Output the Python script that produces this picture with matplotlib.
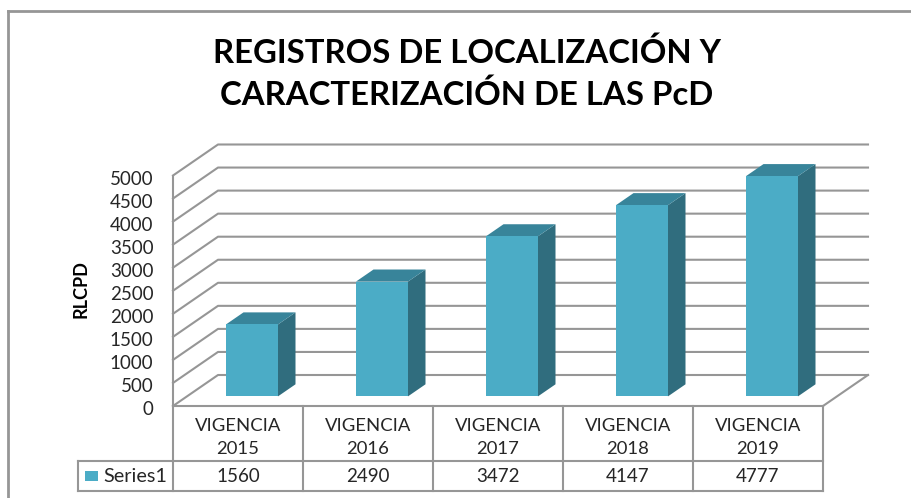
import matplotlib.pyplot as plt
from matplotlib.lines import Line2D
from matplotlib.patches import Polygon, Rectangle
from matplotlib.transforms import ScaledTranslation

categories = ["VIGENCIA\n2015", "VIGENCIA\n2016", "VIGENCIA\n2017", "VIGENCIA\n2018", "VIGENCIA\n2019"]
values = [1560, 2490, 3472, 4147, 4777]
y_ticks = [0, 500, 1000, 1500, 2000, 2500, 3000, 3500, 4000, 4500, 5000]
title = "REGISTROS DE LOCALIZACIÓN Y\nCARACTERIZACIÓN DE LAS PcD"
series_name = "Series1"
y_label = "RLCPD"

W, H = 912, 498
GRAY = "#969696"
FRONT = "#4bacc6"
SIDE = "#306d7e"
TOP = "#38849a"

# front plane of the 3d box in pixels, everything else follows from it
X0, X1, Y0, Y5 = 173, 823, 406, 175.5
DEPTH_X = 45 / ((X1 - X0) / 5)
DEPTH_Y = 31 / ((Y0 - Y5) / 5000)
BAR_W = 52 / ((X1 - X0) / 5)
BAR_LIFT = 0.31  # bars stand this share of the way into the floor


def px_line(fig, xs, ys, lw=1.5):
    fig.add_artist(Line2D([x / W for x in xs], [1 - y / H for y in ys], color=GRAY, lw=lw))


plt.rcParams["font.family"] = ["Lato", "DejaVu Sans"]
fig = plt.figure(figsize=(W / 100, H / 100), dpi=100)
ax = fig.add_axes([X0 / W, 1 - Y0 / H, (X1 - X0) / W, (Y0 - Y5) / H])
ax.set_xlim(0, 5)
ax.set_ylim(0, 5000)
ax.set_xticks([])
ax.set_yticks(y_ticks)
ax.tick_params(axis="y", length=0, pad=14, labelsize=13.5, labelcolor="#262626")
for label in ax.get_yticklabels():
    label.set_transform(label.get_transform() + ScaledTranslation(0, -2 / 100, fig.dpi_scale_trans))
for side in ("top", "right", "bottom"):
    ax.spines[side].set_visible(False)
ax.spines["left"].set_color(GRAY)
ax.spines["left"].set_linewidth(1.5)
ax.patch.set_visible(False)
ax.set_ylabel(y_label, fontweight="bold", fontsize=13)
ax.yaxis.set_label_coords((90 - X0) / (X1 - X0), (Y0 - 289) / (Y0 - Y5))

# walls
for v in y_ticks:
    ax.plot([0, DEPTH_X, 5 + DEPTH_X], [v, v + DEPTH_Y, v + DEPTH_Y], color=GRAY, lw=1.5, clip_on=False, zorder=1)
ax.plot([0, 5], [0, 0], color=GRAY, lw=1.5, clip_on=False, zorder=1)
ax.plot([5, 5 + DEPTH_X], [0, DEPTH_Y], color=GRAY, lw=1.5, clip_on=False, zorder=1)

# bars as three faces
dx = DEPTH_X * 0.39
dy = DEPTH_Y * 0.39
for i, v in enumerate(values):
    left = i + (1 - BAR_W) / 2 + DEPTH_X * BAR_LIFT
    base = DEPTH_Y * BAR_LIFT
    right = left + BAR_W
    top = base + v
    ax.add_patch(Polygon([(right, base), (right + dx, base + dy), (right + dx, top + dy), (right, top)],
                         fc=SIDE, ec="none", clip_on=False, zorder=3))
    ax.add_patch(Polygon([(left, top), (left + dx, top + dy), (right + dx, top + dy), (right, top)],
                         fc=TOP, ec="none", clip_on=False, zorder=3))
    ax.add_patch(Rectangle((left, base), BAR_W, v, fc=FRONT, ec="none", clip_on=False, zorder=4))

# data table under the plot
col_w = (X1 - X0) / 5
ROW1, ROW2 = 461, 491
px_line(fig, [78, X1], [ROW1, ROW1])
px_line(fig, [78, X1], [ROW2, ROW2])
px_line(fig, [78, 78], [ROW1, ROW2])
for i in range(6):
    px_line(fig, [X0 + i * col_w] * 2, [Y0, ROW2])
for i, (name, v) in enumerate(zip(categories, values)):
    cx = (X0 + (i + 0.5) * col_w) / W
    fig.text(cx, 1 - 437.5 / H, name, ha="center", va="center", fontsize=13.3, color="#262626", linespacing=1.5)
    fig.text(cx, 1 - 476 / H, str(v), ha="center", va="center", fontsize=13.5, color="#262626")
fig.add_artist(Rectangle((85 / W, 1 - 481 / H), 13 / W, 10 / H, transform=fig.transFigure, fc=FRONT, ec="none"))
fig.text(103 / W, 1 - 476 / H, series_name, ha="left", va="center", fontsize=14.3, color="#262626")

# outer frame and title, the picture is cut off on the right
px_line(fig, [8, 8], [H, 11], lw=2)
px_line(fig, [8, W], [11, 11], lw=2)
fig.text(467 / W, 1 - 74 / H, title, ha="center", va="center", fontsize=23.7, fontweight="bold", color="black", linespacing=1.47)

fig.savefig("out.png", dpi=100)
